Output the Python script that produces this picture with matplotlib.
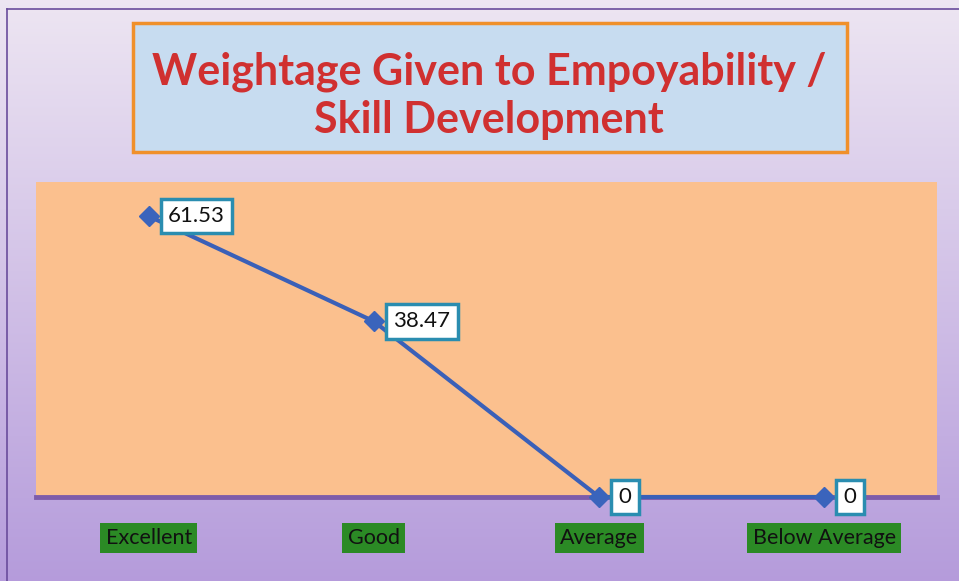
import numpy as np
import matplotlib.pyplot as plt
import matplotlib.transforms as mtransforms
from matplotlib.patches import Rectangle

categories = ["Excellent", "Good", "Average", "Below Average"]
values = [61.53, 38.47, 0, 0]
value_labels = ["61.53", "38.47", "0", "0"]
title_text = "Weightage Given to Empoyability /\nSkill Development"

plt.rcParams['font.family'] = ['Lato', 'DejaVu Sans']

fig = plt.figure(figsize=(9.59, 5.81), dpi=100)

# background gradient (slide)
bg = fig.add_axes([0, 0, 1, 1], zorder=0)
grad = np.linspace(0, 1, 256).reshape(-1, 1)
top = np.array([0.93, 0.90, 0.95])
bottom = np.array([0.71, 0.61, 0.86])
img = top + (bottom - top) * grad[:, :, None]
bg.imshow(img, aspect='auto', extent=[0, 1, 0, 1], origin='upper')
bg.set_xlim(0, 1)
bg.set_ylim(0, 1)
bg.axis('off')
# slide border lines
bg.plot([7/959, 7/959], [0, 1 - 9/581], color='#6a4c9c', lw=1.2)
bg.plot([7/959, 1], [1 - 9/581, 1 - 9/581], color='#6a4c9c', lw=1.2)

# title box
bg.add_patch(Rectangle((133/959, 1 - 152/581), (847-133)/959, (152-23)/581,
                       facecolor='#c7dcf0', edgecolor='#f0902a', lw=2.5))
bg.text(489/959, 1 - 96/581, title_text, ha='center', va='center',
        fontsize=31, fontweight='bold', color='#d03030', linespacing=1.25)

# chart area
ax = fig.add_axes([36/959, 1 - 497/581, (937-36)/959, (497-182)/581], zorder=1)
ax.set_facecolor('#fbc08e')
x = np.arange(len(categories))
ax.plot(x, values, color='#3a60b8', lw=3, marker='D', markersize=10,
        markerfacecolor='#3a64bc', markeredgecolor='#3a64bc', clip_on=False, zorder=3)
ax.set_xlim(-0.5, 3.5)
ax.set_ylim(0, 69)
for s in ['top', 'left', 'right']:
    ax.spines[s].set_visible(False)
ax.spines['bottom'].set_color('#7e5caa')
ax.spines['bottom'].set_linewidth(3.5)
ax.set_xticks([])
ax.set_yticks([])

# data labels
for xi, v, lab in zip(x, values, value_labels):
    ax.annotate(lab, (xi, v), xytext=(14, 0), textcoords='offset points',
                ha='left', va='center', fontsize=16, color='#111111', zorder=5,
                bbox=dict(boxstyle='square,pad=0.33', facecolor='white',
                          edgecolor='#2a8db0', lw=2.5), annotation_clip=False)

# category labels
trans = mtransforms.blended_transform_factory(ax.transData, ax.transAxes)
for xi, cat in zip(x, categories):
    ax.text(xi, -0.13, cat, transform=trans, ha='center', va='center',
            fontsize=15.5, color='#111111',
            bbox=dict(boxstyle='square,pad=0.25', facecolor='#2b8a25',
                      edgecolor='none'))

fig.savefig('out.png', dpi=100)
